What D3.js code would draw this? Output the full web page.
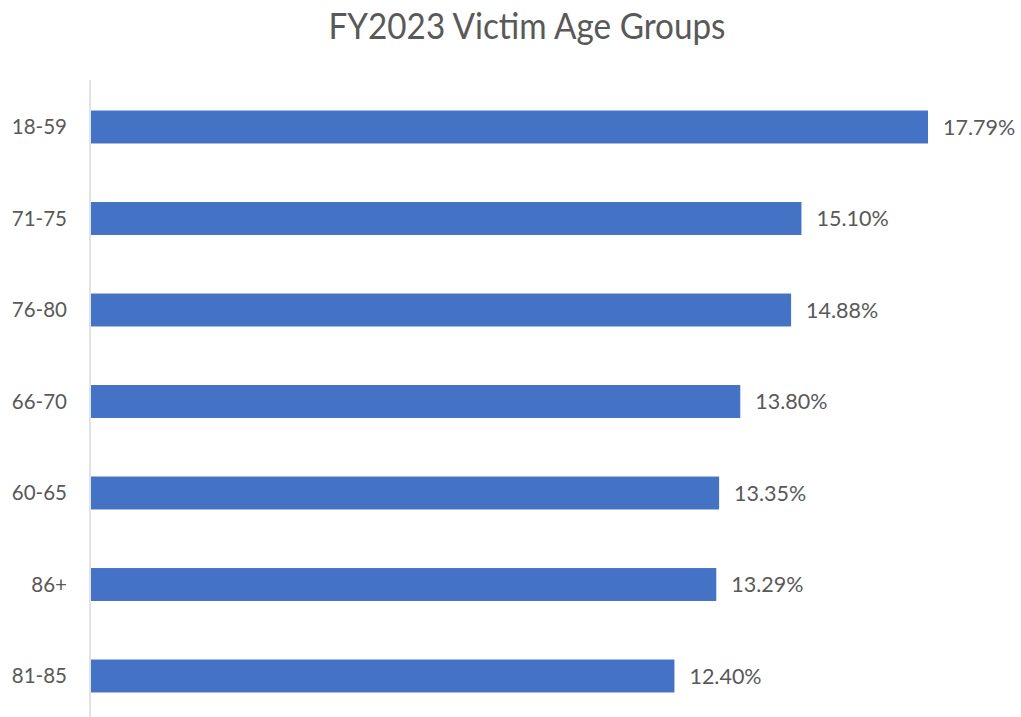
<!DOCTYPE html>
<html>
<head>
<meta charset="utf-8">
<title>FY2023 Victim Age Groups</title>
<style>
  body { margin: 0; background: #fff; }
  text { font-family: Lato, "Open Sans", sans-serif; fill: #595959; }
</style>
</head>
<body>
<svg id="chart"></svg>
<script src="https://d3js.org/d3.v7.min.js"></script>
<script>
// data
const ageGroups = ["18-59", "71-75", "76-80", "66-70", "60-65", "86+", "81-85"];
const shares = [17.79, 15.10, 14.88, 13.80, 13.35, 13.29, 12.40];
const chartTitle = "FY2023 Victim Age Groups";

const width = 1021, height = 717;
const svg = d3.select("#chart").attr("width", width).attr("height", height);

const x = d3.scaleLinear().domain([0, 20]).range([91, 1032]);
const y = d3.scaleBand().domain(ageGroups).range([81.25, 721.75])
    .paddingInner(0.64).paddingOuter(0.32);

// title
svg.append("text")
    .attr("x", 527).attr("y", 39)
    .attr("text-anchor", "middle")
    .attr("textLength", 397).attr("lengthAdjust", "spacingAndGlyphs")
    .style("font-size", "36px")
    .text(chartTitle);

// bars
svg.append("g").selectAll("rect")
    .data(shares)
    .join("rect")
    .attr("x", x(0))
    .attr("y", (d, i) => y(ageGroups[i]))
    .attr("width", d => x(d) - x(0))
    .attr("height", y.bandwidth())
    .attr("fill", "#4472c4");

// vertical axis line
svg.append("line")
    .attr("x1", 90).attr("x2", 90)
    .attr("y1", 80).attr("y2", height)
    .attr("stroke", "#d9d9d9").attr("stroke-width", 1.5);

// category labels
svg.append("g").selectAll("text")
    .data(ageGroups)
    .join("text")
    .attr("x", 67)
    .attr("y", d => y(d) + y.bandwidth() / 2)
    .attr("dy", "0.36em")
    .attr("text-anchor", "end")
    .style("font-size", "20.5px")
    .text(d => d);

// value labels
svg.append("g").selectAll("text")
    .data(shares)
    .join("text")
    .attr("x", d => x(d) + 15)
    .attr("y", (d, i) => y(ageGroups[i]) + y.bandwidth() / 2)
    .attr("dy", "0.36em")
    .style("font-size", "21.5px")
    .text(d => d.toFixed(2) + "%");
</script>
</body>
</html>
